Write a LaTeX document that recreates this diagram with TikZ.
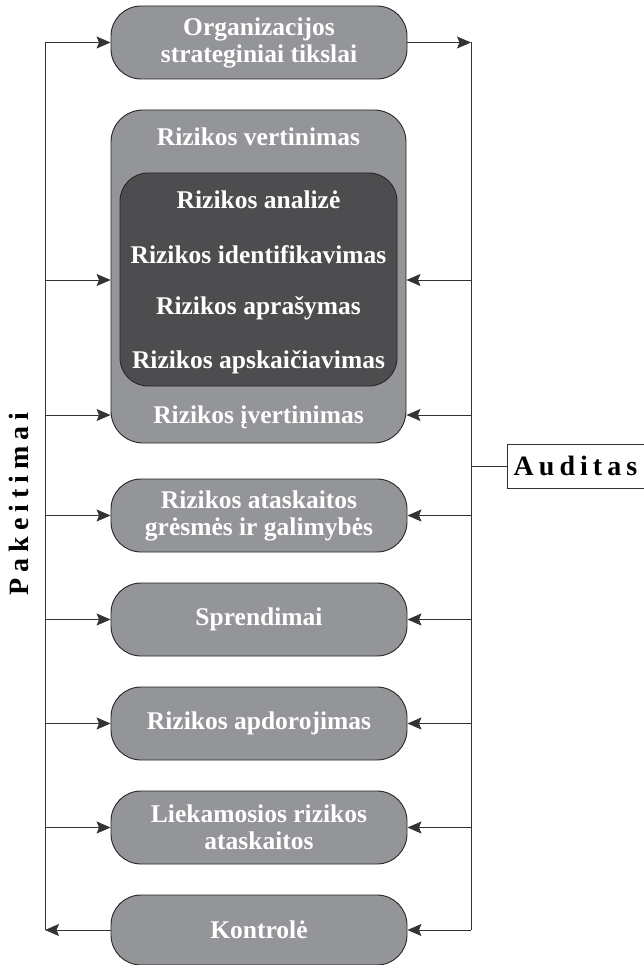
\documentclass[tikz,border=0pt]{standalone}
\usepackage{fontspec}
\setmainfont{Liberation Serif}
\newfontfamily\pakfont[LetterSpace=21]{Liberation Serif}
\newfontfamily\audfont[LetterSpace=18]{Liberation Serif}
\usetikzlibrary{arrows.meta}
\definecolor{boxgray}{HTML}{939598}
\definecolor{darkgray}{HTML}{4D4D4F}
\definecolor{linegray}{HTML}{333333}
\tikzset{
  procbox/.style={draw=black!85, line width=0.9pt, fill=boxgray, rounded corners=30pt,
    minimum width=296pt, inner sep=0pt, align=center, text=white,
    font=\fontsize{25.5}{27}\selectfont\bfseries},
  wtext/.style={text=white, font=\fontsize{25.5}{27}\selectfont\bfseries, inner sep=0pt},
  conn/.style={draw=linegray, line width=0.8pt},
  arr/.style={conn, -{Stealth[length=14pt,width=12pt,inset=2.5pt]}},
  sidelabel/.style={text=black, inner sep=0pt}
}
\begin{document}
\begin{tikzpicture}[x=1pt,y=-1pt]
\useasboundingbox (0,0) rectangle (644,965);
\coordinate (Lx) at (45,0);
\coordinate (Rx) at (471,0);
% boxes
\node[procbox, minimum height=73pt] (b1) at (259,42.5) {Organizacijos\\strateginiai tikslai};
\node[procbox, minimum width=295pt, minimum height=333pt, rounded corners=32pt] (V) at (258.5,276.5) {};
\node[draw=black!85, line width=0.9pt, fill=darkgray, rounded corners=28pt, minimum width=277pt, minimum height=213pt] (Vin) at (258.5,279.5) {};
\node[wtext] (t0) at (258.5,137) {Rizikos vertinimas};
\node[wtext] (t1) at (258.5,200) {Rizikos analizė};
\node[wtext] (t2) at (258.5,255) {Rizikos identifikavimas};
\node[wtext] (t3) at (258.5,308) {Rizikos aprašymas};
\node[wtext] (t4) at (258.5,362) {Rizikos apskaičiavimas};
\node[wtext] (t5) at (258.5,417) {Rizikos įvertinimas};
\node[procbox, minimum height=73pt] (b3) at (259,515.5) {Rizikos ataskaitos\\grėsmės ir galimybės};
\node[procbox, minimum height=73pt] (b4) at (259,619.5) {Sprendimai};
\node[procbox, minimum height=73pt] (b5) at (259,723.5) {Rizikos apdorojimas};
\node[procbox, minimum height=73pt] (b6) at (259,827.5) {Liekamosios rizikos\\ataskaitos};
\node[procbox, minimum height=70pt] (b7) at (259,930) {Kontrolė};
% side labels
\node[sidelabel, rotate=90, font=\pakfont\fontsize{28}{28}\selectfont\bfseries] (pak) at (19,504) {Pakeitimai};
\node[sidelabel, draw=linegray, line width=0.8pt, font=\audfont\fontsize{28}{28}\selectfont\bfseries, minimum width=137pt, minimum height=44pt] (aud) at (575.5,466) {Auditas};
% vertical buses
\draw[conn] (b1.west -| Lx) -- (b7.west -| Lx);
\draw[conn] (b1.east -| Rx) -- (b7.east -| Rx);
% helper rows for the large box
\coordinate (va) at (0,280);
\coordinate (vb) at (0,415);
% left arrows
\draw[arr] (b1.west -| Lx) -- (b1.west);
\draw[arr] (va -| Lx) -- (va -| V.west);
\draw[arr] (vb -| Lx) -- (vb -| V.west);
\draw[arr] (b3.west -| Lx) -- (b3.west);
\draw[arr] (b4.west -| Lx) -- (b4.west);
\draw[arr] (b5.west -| Lx) -- (b5.west);
\draw[arr] (b6.west -| Lx) -- (b6.west);
\draw[arr] (b7.west) -- (b7.west -| Lx);
% right arrows
\draw[arr] (b1.east) -- (b1.east -| Rx);
\draw[arr] (va -| Rx) -- (va -| V.east);
\draw[arr] (vb -| Rx) -- (vb -| V.east);
\draw[arr] (b3.east -| Rx) -- (b3.east);
\draw[arr] (b4.east -| Rx) -- (b4.east);
\draw[arr] (b5.east -| Rx) -- (b5.east);
\draw[arr] (b6.east -| Rx) -- (b6.east);
\draw[arr] (b7.east -| Rx) -- (b7.east);
% audit link
\draw[conn] (aud.west -| Rx) -- (aud.west);
\end{tikzpicture}
\end{document}
